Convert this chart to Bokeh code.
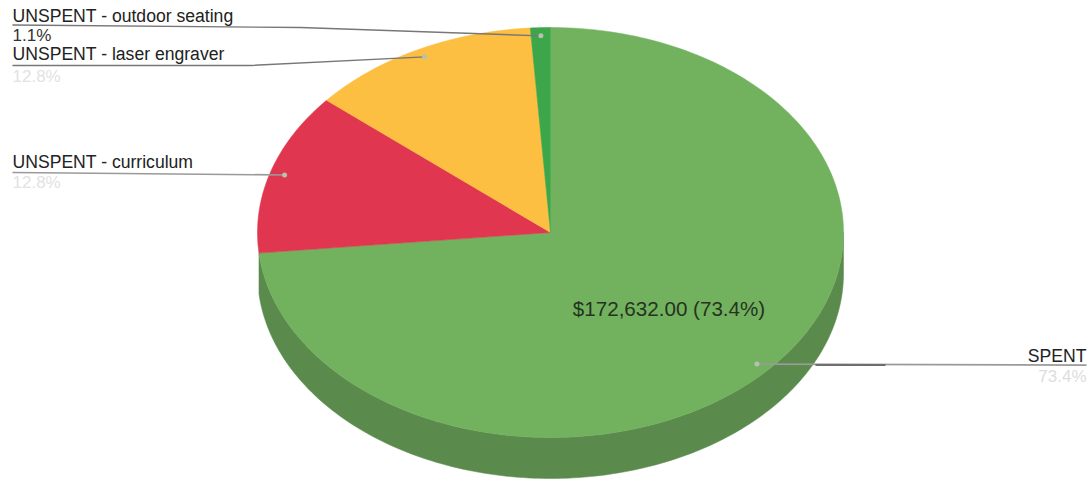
import numpy as np
from bokeh.plotting import figure
from bokeh.embed import file_html
from bokeh.resources import INLINE
from bokeh.core.properties import value
from bokeh.models import Range1d

# Data
categories = ["SPENT", "UNSPENT - curriculum", "UNSPENT - laser engraver", "UNSPENT - outdoor seating"]
shares = [73.4, 12.75, 12.75, 1.1]
share_labels = ["73.4%", "12.8%", "12.8%", "1.1%"]
centre_label = "$172,632.00 (73.4%)"

# Style
colors = ["#72B25F", "#E0364F", "#FCBF41", "#3DA64A"]
side_color = "#5B8A4D"
pct_colors = ["#DDDDDD", "#E2E2E2", "#E2E2E2", "#333333"]
CX, CY, RX, RY, DEPTH = 550.0, 232.0, 293.0, 205.0, 41.0

W, H = 1087, 479
p = figure(width=W, height=H, output_backend="svg", toolbar_location=None,
           x_range=Range1d(0, W), y_range=Range1d(H, 0), min_border=0)
p.axis.visible = False
p.grid.visible = False
p.outline_line_color = None
p.background_fill_color = "#FFFFFF"
p.border_fill_color = "#FFFFFF"

fracs = np.array(shares) / sum(shares)
edges = np.concatenate([[0.0], np.cumsum(fracs)]) * 2 * np.pi


def ex(t, r=1.0):
    return CX + RX * r * np.sin(t)


def ey(t, r=1.0):
    return CY - RY * r * np.cos(t)


# Extruded side, visible part of the first slice only
t_side = np.linspace(np.pi / 2, edges[1], 160)
p.patch(np.concatenate([ex(t_side), ex(t_side[::-1])]),
        np.concatenate([ey(t_side), ey(t_side[::-1]) + DEPTH]),
        fill_color=side_color, line_color=side_color, line_width=0.5)

# Top faces
for i, c in enumerate(colors):
    t = np.linspace(edges[i], edges[i + 1], max(8, int(300 * fracs[i])))
    p.patch(np.concatenate([[CX], ex(t)]), np.concatenate([[CY], ey(t)]),
            fill_color=c, line_color=c, line_width=0.5)

# Leader lines
mids = (edges[:-1] + edges[1:]) / 2
ax, ay = ex(mids, 0.95), ey(mids, 0.95)
LINE = "#9A9A9A"
# SPENT
p.line([ax[0], 1086], [ay[0] + 1, ay[0] + 2], line_color=LINE, line_width=1.6)
p.line([815, 885], [ay[0] + 2, ay[0] + 2], line_color="#444444", line_width=1.4)
# curriculum
p.line([12, ax[1]], [172, ay[1]], line_color=LINE, line_width=1.6)
# laser engraver
p.line([12, 250, ax[2]], [65, 65, ay[2] - 2], line_color="#777777", line_width=1.4)
# outdoor seating
p.line([12, 300, ax[3]], [24.5, 27, ay[3] - 2], line_color="#777777", line_width=1.4)
p.scatter([ax[0], ax[1], ax[2], ax[3]], [ay[0] + 1, ay[1], ay[2] - 2, ay[3] - 2],
          size=5, color="#B5C2AE", line_color=None)

# Labels
font = value("Liberation Sans")
name_x = [1086, 12, 12, 12]
name_y = [355, 161, 53, 15]
pct_y = [376, 182, 76, 35]
aligns = ["right", "left", "left", "left"]
for i in range(4):
    p.text([name_x[i]], [name_y[i]], text=[categories[i]], text_font=font, text_font_size="17.6px",
           text_color="#222222", text_align=aligns[i], text_baseline="middle")
    p.text([name_x[i]], [pct_y[i]], text=[share_labels[i]], text_font=font, text_font_size="17px",
           text_color=pct_colors[i], text_align=aligns[i], text_baseline="middle")
p.text([668.5], [307.5], text=[centre_label], text_font=font, text_font_size="20.6px",
       text_color="#26331F", text_align="center", text_baseline="middle")

open("out.html", "w").write(file_html(p, INLINE))
